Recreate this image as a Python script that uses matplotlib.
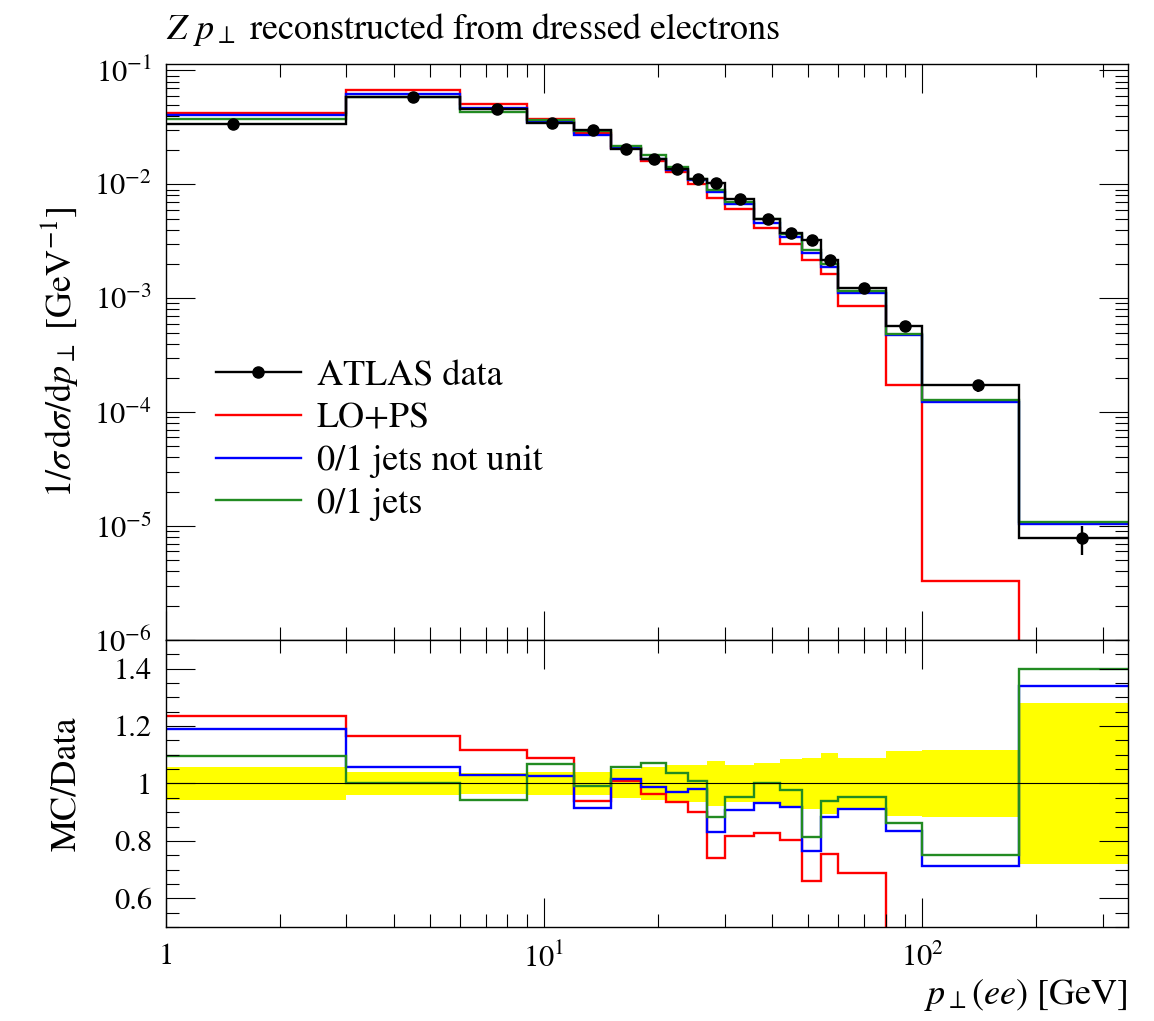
import matplotlib.pyplot as plt
import numpy as np
from matplotlib.lines import Line2D
from matplotlib.ticker import FixedLocator, FixedFormatter, LogLocator, MultipleLocator, NullFormatter

plt.rcParams['font.family'] = 'STIXGeneral'
plt.rcParams['mathtext.fontset'] = 'stix'

# bin edges in GeV
edges = [0, 3, 6, 9, 12, 15, 18, 21, 24, 27, 30, 36, 42, 48, 54, 60, 80, 100, 180, 350]

data = [0.0340, 0.0583, 0.0458, 0.0345, 0.0300, 0.0205, 0.0168, 0.0137, 0.0111, 0.0102,
        0.0074, 0.00495, 0.00373, 0.00326, 0.00215, 0.00123, 5.66e-4, 1.72e-4, 7.8e-6]
rel_err = [0.057, 0.041, 0.038, 0.039, 0.041, 0.050, 0.057, 0.063, 0.066, 0.078,
           0.065, 0.072, 0.084, 0.090, 0.107, 0.087, 0.113, 0.117, 0.28]

lo_ps = [0.0420, 0.0680, 0.0512, 0.0376, 0.0282, 0.0207, 0.0162, 0.0128, 0.0100, 0.00754,
         0.00605, 0.00410, 0.00300, 0.00215, 0.00162, 8.47e-4, 1.72e-4, 3.3e-6, 0.0]
jets_not_unit = [0.0404, 0.0617, 0.0471, 0.0354, 0.0274, 0.0208, 0.0166, 0.0133, 0.0109, 0.00849,
                 0.00671, 0.00462, 0.00343, 0.00249, 0.00190, 0.00112, 4.72e-4, 1.225e-4, 1.044e-5]
jets = [0.0373, 0.0583, 0.0432, 0.0368, 0.0297, 0.0217, 0.0180, 0.0142, 0.0112, 0.00901,
        0.00706, 0.00495, 0.00364, 0.00265, 0.00202, 0.00117, 4.88e-4, 1.292e-4, 1.092e-5]

labels = ['ATLAS data', 'LO+PS', '0/1 jets not unit', '0/1 jets']
colors = ['black', 'red', 'blue', '#228b22']

edges = np.array(edges, dtype=float)
data = np.array(data)
rel_err = np.array(rel_err)
mcs = [np.array(lo_ps), np.array(jets_not_unit), np.array(jets)]
centers = 0.5 * (edges[:-1] + edges[1:])
xmin, xmax = 1, 350
edges_plot = np.clip(edges, xmin, None)

fig = plt.figure(figsize=(11.54, 10.21), dpi=100)
ax = fig.add_axes([0.1438, 0.3732, 0.8337, 0.5641])
axr = fig.add_axes([0.1438, 0.0921, 0.8337, 0.2811], sharex=ax)

lw = 1.7
for mc, c in zip(mcs, colors[1:]):
    ax.stairs(np.where(mc > 0, mc, 1e-12), edges_plot, baseline=None, color=c, lw=lw)
ax.stairs(data, edges_plot, baseline=None, color='black', lw=lw, zorder=4)
ax.errorbar(centers, data, yerr=data * rel_err, fmt='o', color='black', ms=8,
            elinewidth=lw, capsize=0, zorder=5)

ax.set_xscale('log')
ax.set_yscale('log')
ax.set_xlim(xmin, xmax)
ax.set_ylim(1e-6, 0.114)

# ratio panel
axr.stairs(1 + rel_err, edges_plot, baseline=1 - rel_err, fill=True, color='yellow', lw=0)
axr.axhline(1, color='black', lw=0.8)
for mc, c in zip(mcs, colors[1:]):
    axr.stairs(mc / data, edges_plot, baseline=None, color=c, lw=lw)
axr.set_ylim(0.5, 1.5)

for a in (ax, axr):
    a.tick_params(which='both', direction='in', top=True, right=True, width=0.8, labelsize=22)
    a.tick_params(which='major', length=21)
    a.tick_params(which='minor', length=9.5)
    for s in a.spines.values():
        s.set_linewidth(1.0)

ax.yaxis.set_major_locator(LogLocator(base=10, numticks=12))
ax.yaxis.set_minor_locator(LogLocator(base=10, subs=np.arange(2, 10), numticks=12))
ax.yaxis.set_minor_formatter(NullFormatter())
ax.tick_params(axis='x', which='both', labelbottom=False)
ax.tick_params(axis='y', which='major', pad=10)

axr.xaxis.set_major_locator(FixedLocator([1, 10, 100]))
axr.xaxis.set_major_formatter(FixedFormatter(['1', '$10^1$', '$10^2$']))
axr.xaxis.set_minor_locator(LogLocator(base=10, subs=np.arange(2, 10), numticks=12))
axr.xaxis.set_minor_formatter(NullFormatter())
axr.tick_params(axis='x', which='major', pad=12)
axr.tick_params(axis='y', which='major', pad=10)
axr.yaxis.set_major_locator(MultipleLocator(0.2))
axr.yaxis.set_minor_locator(MultipleLocator(0.05))
axr.yaxis.set_major_formatter(plt.FuncFormatter(lambda v, p: '%g' % round(v, 2)))

ax.set_ylabel(r'$1/\sigma\,\mathrm{d}\sigma/\mathrm{d}p_\perp$ [GeV$^{-1}$]', fontsize=26, labelpad=10)
axr.set_ylabel('MC/Data', fontsize=26, labelpad=22)
axr.set_xlabel(r'$p_\perp(ee)$ [GeV]', fontsize=26, loc='right', labelpad=2)
ax.set_title(r'$Z$ $p_\perp$ reconstructed from dressed electrons', loc='left', fontsize=26, pad=18)

handles = [Line2D([], [], color='black', lw=lw, marker='o', ms=8)]
handles += [Line2D([], [], color=c, lw=lw) for c in colors[1:]]
ax.legend(handles, labels, loc='upper left', bbox_to_anchor=(0.018, 0.543), frameon=False,
          fontsize=26, handlelength=2.35, handletextpad=0.45, labelspacing=0.26)

fig.savefig('out.png', dpi=100)
